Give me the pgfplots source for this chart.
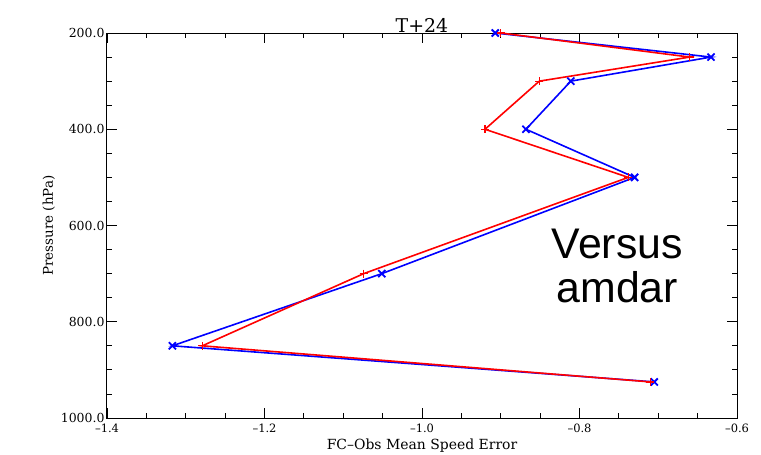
\documentclass[border=0pt]{standalone}
\usepackage{pgfplots}
\pgfplotsset{compat=1.18}
\usepackage{fontspec}
\setmainfont{DejaVu Serif}
\newfontfamily\arialfont{Liberation Sans}
\begin{document}
\begin{tikzpicture}
\begin{axis}[name=ax, scale only axis, width=630bp, height=385bp,
  xmin=-1.4, xmax=-0.6, ymin=200, ymax=1000, y dir=reverse,
  xtick={-1.4,-1.2,-1.0,-0.8,-0.6},
  xticklabels={–1.4,–1.2,–1.0,–0.8,–0.6},
  ytick={200,400,600,800,1000},
  yticklabels={200.0,400.0,600.0,800.0,1000.0},
  minor x tick num=3, minor y tick num=3,
  tick align=inside, major tick length=10bp, minor tick length=5bp,
  axis line style={line width=1bp},
  every tick/.style={black, line width=0.8bp},
  xticklabel style={font=\fontsize{11.5}{11.5}\selectfont, yshift=-2bp},
  yticklabel style={font=\fontsize{12.5}{12.5}\selectfont, xshift=1bp},
  xlabel={FC–Obs Mean Speed Error},
  xlabel style={font=\fontsize{14}{14}\selectfont, yshift=0bp},
  ylabel={Pressure (hPa)},
  ylabel style={font=\fontsize{13.5}{13.5}\selectfont, yshift=-1bp},
  title={T+24},
  title style={font=\fontsize{19}{19}\selectfont, yshift=-9bp},
  clip=false,
]
\addplot[blue, line width=1.6bp, mark=x, mark size=5bp, mark options={line width=1.8bp}] coordinates {
(-0.907,200) (-0.633,250) (-0.811,300) (-0.868,400) (-0.730,500) (-1.051,700) (-1.317,850) (-0.705,925)
};
\addplot[red, line width=1.6bp, mark=+, mark size=4bp, mark options={line width=1.2bp}] coordinates {
(-0.900,200) (-0.660,250) (-0.851,300) (-0.920,400) (-0.738,500) (-1.074,700) (-1.279,850) (-0.710,925)
};
\node[align=center, font=\arialfont\fontsize{43}{44}\selectfont] at (axis cs:-0.752,684) {Versus\\amdar};
\end{axis}
\pgfresetboundingbox
\path ([shift={(-107bp,-37bp)}]ax.south west) rectangle ++(761bp,455bp);
\end{tikzpicture}
\end{document}
